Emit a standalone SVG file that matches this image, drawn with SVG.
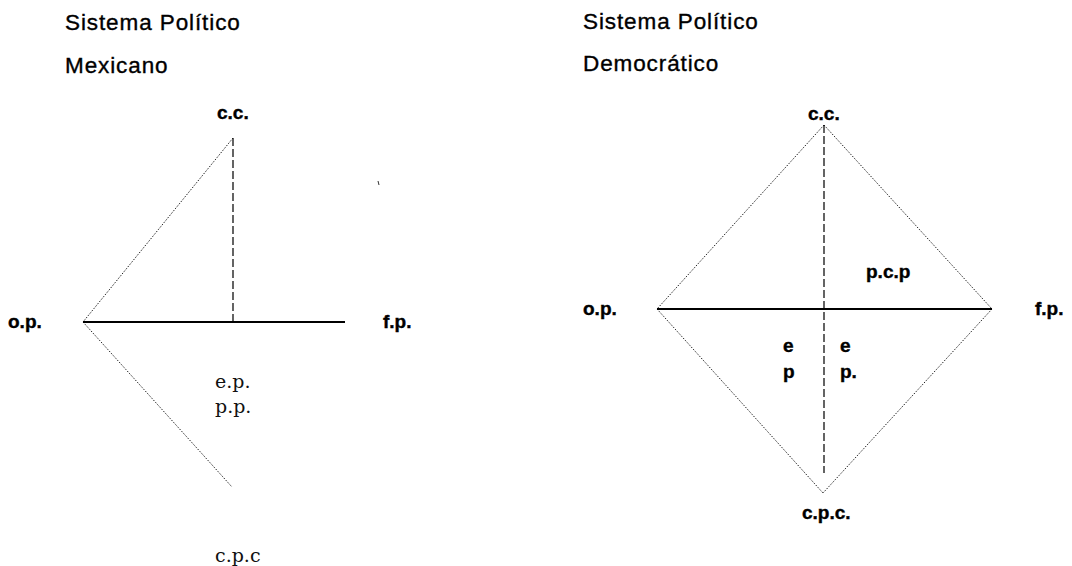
<svg xmlns="http://www.w3.org/2000/svg" width="1072" height="566" viewBox="0 0 1072 566">
<style>
.title{font-family:"Liberation Sans",Arial,sans-serif;font-size:22.5px;letter-spacing:0.9px;fill:#000;stroke:#000;stroke-width:0.35px}
.lbl{font-family:"Liberation Sans",Arial,sans-serif;font-size:19px;font-weight:bold;fill:#000;stroke:#000;stroke-width:0.4px}
.ser{font-family:"DejaVu Serif","Liberation Serif",serif;font-size:19px;fill:#111}
.dot{stroke:#222;stroke-width:1;stroke-dasharray:1.5 1.5;fill:none}
.dash{stroke:#111;stroke-width:1.3;stroke-dasharray:8 3;fill:none}
.solid{stroke:#000;stroke-width:2;fill:none}
</style>
<rect width="1072" height="566" fill="#fff"/>
<g id="titles">
<text class="title" x="65" y="30">Sistema Político</text>
<text class="title" x="65" y="73">Mexicano</text>
<text class="title" x="583" y="29">Sistema Político</text>
<text class="title" x="583" y="71">Democrático</text>
</g>
<g id="connectors">
<line class="dot" x1="233" y1="138" x2="83" y2="322"/>
<line class="dot" x1="83" y1="322" x2="232" y2="487"/>
<line class="dash" x1="233" y1="138" x2="233" y2="322"/>
<line class="solid" x1="83" y1="322" x2="345" y2="322"/>
<line x1="378" y1="181" x2="379" y2="185" stroke="#333" stroke-width="1"/>
<line class="dot" x1="824" y1="125" x2="657" y2="309"/>
<line class="dot" x1="824" y1="125" x2="992" y2="309"/>
<line class="dot" x1="657" y1="309" x2="823" y2="493"/>
<line class="dot" x1="992" y1="309" x2="823" y2="493"/>
<line class="dash" x1="824" y1="125" x2="824" y2="473"/>
<line class="solid" x1="657" y1="309" x2="992" y2="309" stroke-width="1.6"/>
</g>
<g id="left-cc"><text class="lbl" x="217" y="119">c.c.</text></g>
<g id="left-op"><text class="lbl" x="8" y="328">o.p.</text></g>
<g id="left-fp"><text class="lbl" x="383" y="328">f.p.</text></g>
<g id="left-ep"><text class="ser" x="215" y="388">e.p.</text><text class="ser" x="215" y="413">p.p.</text></g>
<g id="left-cpc"><text class="ser" x="215" y="562">c.p.c</text></g>
<g id="right-cc"><text class="lbl" x="808" y="120">c.c.</text></g>
<g id="right-op"><text class="lbl" x="583" y="315">o.p.</text></g>
<g id="right-fp"><text class="lbl" x="1035" y="315">f.p.</text></g>
<g id="right-pcp"><text class="lbl" x="866" y="278">p.c.p</text></g>
<g id="right-ep-left"><text class="lbl" x="783" y="352">e</text><text class="lbl" x="783" y="378">p</text></g>
<g id="right-ep-right"><text class="lbl" x="840" y="352">e</text><text class="lbl" x="840" y="378">p.</text></g>
<g id="right-cpc"><text class="lbl" x="802" y="519">c.p.c.</text></g>
</svg>
